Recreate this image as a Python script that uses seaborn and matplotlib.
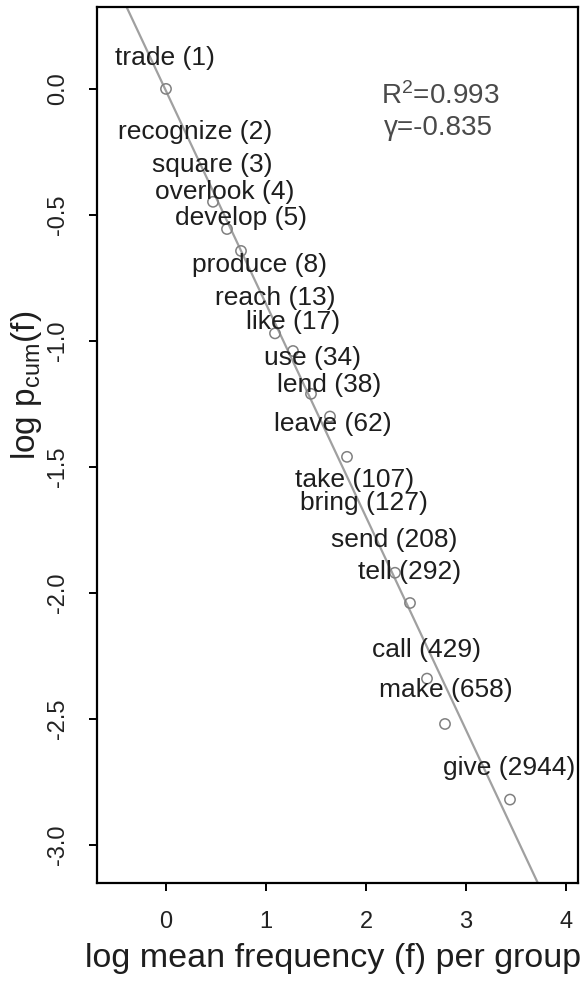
import matplotlib
matplotlib.use("Agg")
import matplotlib.pyplot as plt
import seaborn as sns
import pandas as pd

# ---- data ----
point_x = [0.00, 0.47, 0.61, 0.75, 1.09, 1.27, 1.45, 1.64, 1.81, 2.29, 2.44, 2.61, 2.79, 3.44]
point_y = [0.00, -0.448, -0.556, -0.643, -0.97, -1.04, -1.21, -1.30, -1.46, -1.92, -2.04, -2.34, -2.52, -2.82]

labels = ["trade (1)", "recognize (2)", "square (3)", "overlook (4)", "develop (5)",
          "produce (8)", "reach (13)", "like (17)", "use (34)", "lend (38)",
          "leave (62)", "take (107)", "bring (127)", "send (208)", "tell (292)",
          "call (429)", "make (658)", "give (2944)"]
label_x = [-0.01, 0.295, 0.465, 0.585, 0.75, 0.94, 1.095, 1.275, 1.465, 1.635,
           1.67, 1.885, 1.975, 2.28, 2.435, 2.605, 2.795, 3.435]
label_y = [0.123, -0.171, -0.302, -0.409, -0.512, -0.698, -0.829, -0.925, -1.067, -1.175,
           -1.329, -1.552, -1.643, -1.79, -1.917, -2.226, -2.385, -2.694]

x_ticks = [0, 1, 2, 3, 4]
y_ticks = [0.0, -0.5, -1.0, -1.5, -2.0, -2.5, -3.0]
r2_text = "R$^2$=0.993"
gamma_text = "γ=-0.835"

df = pd.DataFrame({"x": point_x, "y": point_y})

sns.set_theme(style="white")
plt.rcParams["font.family"] = ["Liberation Sans", "DejaVu Sans"]
plt.rcParams["mathtext.fontset"] = "custom"
plt.rcParams["mathtext.rm"] = "Liberation Sans"
plt.rcParams["mathtext.it"] = "Liberation Sans:italic"
plt.rcParams["mathtext.bf"] = "Liberation Sans:bold"

fig = plt.figure(figsize=(5.84, 9.85), dpi=100)
ax = fig.add_axes([97 / 584, 102 / 985, 481 / 584, 876 / 985])

ax.set_xlim(-0.69, 4.12)
ax.set_ylim(-3.151, 0.325)

sns.regplot(data=df, x="x", y="y", ax=ax, scatter=False, ci=None, truncate=False,
            line_kws=dict(color="#a0a0a0", lw=1.6, zorder=2))
sns.scatterplot(data=df, x="x", y="y", ax=ax, s=55, facecolor="none",
                edgecolor="#808080", linewidth=1.1, zorder=3)

for t, lx, ly in zip(labels, label_x, label_y):
    ax.text(lx, ly, t, ha="center", va="center", fontsize=19, color="#1e1e1e", zorder=4)

ax.text(2.74, -0.03, r2_text, ha="center", va="center", fontsize=20, color="#4a4a4a")
ax.text(2.72, -0.155, gamma_text, ha="center", va="center", fontsize=20, color="#4a4a4a")

ax.set_xlim(-0.69, 4.12)
ax.set_ylim(-3.151, 0.325)
ax.set_xticks(x_ticks)
ax.set_xticklabels([str(v) for v in x_ticks])
ax.set_yticks(y_ticks)
ax.set_yticklabels([f"{v:.1f}" for v in y_ticks], rotation=90, va="center")

ax.tick_params(axis="both", which="both", direction="out", length=6, width=1.4,
               color="black", labelsize=17, labelcolor="#222222", left=True, bottom=True)
ax.tick_params(axis="x", pad=14)
ax.tick_params(axis="y", pad=14)

for sp in ax.spines.values():
    sp.set_visible(True)
    sp.set_color("black")
    sp.set_linewidth(1.6)

ax.set_xlabel("log mean frequency (f) per group", fontsize=24.5, color="#1e1e1e")
ax.xaxis.set_label_coords((333 - 97) / 481, -60 / 876)
ax.set_ylabel(r"log p$_{\rm cum}$(f)", fontsize=24, color="#1e1e1e")
ax.yaxis.set_label_coords(-53 / 481, (883 - 385) / 876)

fig.savefig("out.png", dpi=100)
